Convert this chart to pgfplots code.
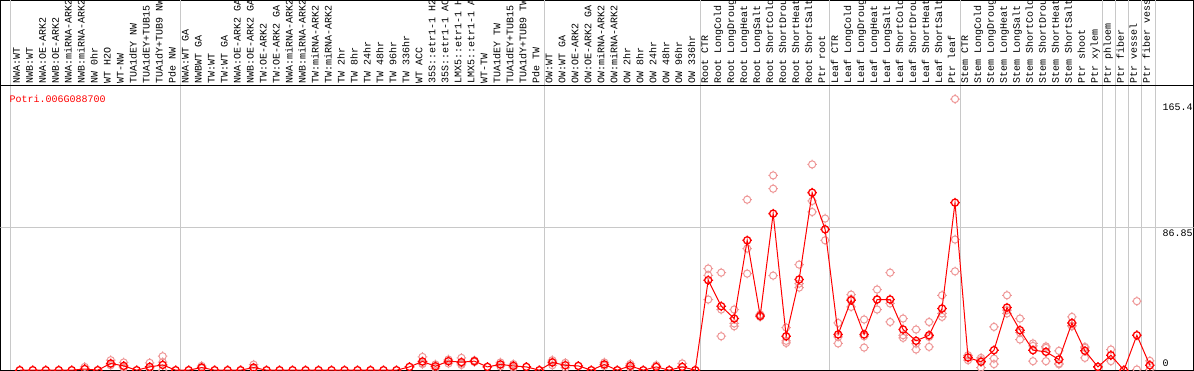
\documentclass[border=0pt]{standalone}
\usepackage{pgfplots}
\usepackage{pgfplotstable}
\pgfplotsset{compat=1.18}
\usepackage{fontspec}
\setmainfont{Liberation Mono}
\definecolor{rep}{RGB}{238,150,150}
\definecolor{gridc}{RGB}{200,200,200}
\pgfdeclareplotmark{tc}{%
 \pgfpathcircle{\pgfpointorigin}{\pgfplotmarksize}%
 \pgfpathmoveto{\pgfpoint{0pt}{\pgfplotmarksize-0.6pt}}\pgfpathlineto{\pgfpoint{0pt}{\pgfplotmarksize+1.2pt}}%
 \pgfpathmoveto{\pgfpoint{0pt}{-\pgfplotmarksize+0.6pt}}\pgfpathlineto{\pgfpoint{0pt}{-\pgfplotmarksize-1.2pt}}%
 \pgfpathmoveto{\pgfpoint{\pgfplotmarksize-0.6pt}{0pt}}\pgfpathlineto{\pgfpoint{\pgfplotmarksize+1.2pt}{0pt}}%
 \pgfpathmoveto{\pgfpoint{-\pgfplotmarksize+0.6pt}{0pt}}\pgfpathlineto{\pgfpoint{-\pgfplotmarksize-1.2pt}{0pt}}%
 \pgfusepathqstroke}
\pgfplotstableread{
x y
0 0
1 0
2 0
3 0
4 0
5 0.7
6 0
7 4.1
8 2.6
9 0
10 2.0
11 3.2
12 0
13 0
14 1.6
15 0
16 0
17 0
18 1.6
19 0
20 0
21 0
22 0
23 0
24 0
25 0
26 0
27 0
28 0
29 0
30 2.0
31 5.3
32 2.4
33 5.5
34 4.9
35 5.5
36 2.0
37 3.5
38 2.6
39 2.0
40 0
41 4.7
42 3.0
43 2.6
44 0
45 3.5
46 0
47 2.6
48 0
49 2.0
50 0
51 2.0
52 0
53 54.9
54 39.0
55 31.5
56 79.2
57 33.1
58 95.5
59 20.7
60 55.3
61 108.3
62 85.9
63 21.8
64 42.7
65 21.8
66 43.1
67 43.1
68 24.8
69 17.9
70 21.3
71 37.6
72 102.2
73 7.7
74 5.1
75 12.2
76 38.2
77 24.4
78 12.2
79 11.2
80 6.5
81 28.8
82 11.8
83 2.0
84 9.1
85 0
86 21.3
87 3.0
}\meantable
\pgfplotstableread{
x y
5 2.0
7 6.1
7 3.2
7 3.0
8 4.7
8 1.6
8 1.5
10 4.5
10 0.8
11 8.5
11 4.9
11 0
14 2.6
14 1.2
18 3.4
18 0.8
31 8.1
31 4.1
31 3.7
32 3.5
32 1.3
33 4.1
33 6.5
34 7.5
34 3.2
34 4.0
35 5.0
35 6.0
37 4.7
37 2.3
38 3.7
38 1.5
41 6.1
41 3.0
41 5.0
42 4.5
42 1.5
45 4.7
45 2.6
47 3.8
47 1.4
49 3.0
51 4.1
53 62.0
53 57.9
53 43.1
54 59.5
54 37.0
54 20.7
55 37.0
55 28.5
55 26.8
56 104.0
56 74.2
56 58.9
57 34.0
57 32.5
57 32.8
58 118.8
58 110.7
58 57.7
59 26.0
59 17.9
59 16.6
60 64.4
60 52.8
60 50.4
61 125.5
61 103.2
61 96.5
62 92.5
62 79.2
63 28.8
63 16.3
63 20.3
64 46.1
64 38.6
64 43.4
65 30.9
65 13.8
65 20.7
66 49.2
66 37.0
66 43.1
67 59.5
67 40.7
67 29.4
68 31.5
68 21.3
68 19.7
69 24.8
69 12.6
69 16.2
70 29.4
70 14.2
70 20.3
71 45.7
71 34.6
71 32.5
72 165.4
72 79.7
72 60.3
73 9.1
73 6.1
73 7.9
74 7.5
74 1.6
74 6.2
75 26.4
75 7.1
75 3.7
76 45.7
76 34.6
76 36.6
77 31.5
77 18.7
77 23.0
78 16.3
78 5.5
78 14.8
79 13.6
79 5.5
79 14.5
80 11.8
80 4.1
80 3.6
81 32.5
81 26.8
81 27.1
82 14.2
82 13.6
82 7.5
83 2.0
84 12.6
84 5.5
86 42.1
86 0.4
87 5.7
87 0.4
}\reptable
\begin{document}
\begin{tikzpicture}
\begin{axis}[
  name=main,
  width=1194pt, height=285pt, scale only axis,
  xmin=-1.485, xmax=90.36, ymin=0, ymax=173.7,
  clip marker paths=true,
  axis line style={line width=1pt},
  major tick length=0,
  xtick={0,...,87},
  xticklabels={{NWA:WT},{NWB:WT},{NWA:OE-ARK2},{NWB:OE-ARK2},{NWA:miRNA-ARK2},{NWB:miRNA-ARK2},{NW 0hr},{WT H2O},{WT-NW},{TUA1dEY NW},{TUA1dEY+TUB15},{TUA1dY+TUB9 NW},{Pde NW},
  {NWA:WT GA},{NWBWT GA},{TW:WT},{TW:WT GA},{NWA:OE-ARK2 GA},{NWB:OE-ARK2 GA},{TW:OE-ARK2},{TW:OE-ARK2 GA},{NWA:miRNA-ARK2},{NWB:miRNA-ARK2},{TW:miRNA-ARK2},{TW:miRNA-ARK2},{TW 2hr},{TW 8hr},{TW 24hr},{TW 48hr},{TW 96hr},{TW 336hr},{WT ACC},{35S::etr1-1 H2},{35S::etr1-1 AC},{LMX5::etr1-1 H},{LMX5::etr1-1 A},{WT-TW},{TUA1dEY TW},{TUA1dEY+TUB15},{TUA1dY+TUB9 TW},{Pde TW},
  {OW:WT},{OW:WT GA},{OW:OE-ARK2},{OW:OE-ARK2 GA},{OW:miRNA-ARK2},{OW:miRNA-ARK2},{OW 2hr},{OW 8hr},{OW 24hr},{OW 48hr},{OW 96hr},{OW 336hr},
  {Root CTR},{Root LongCold},{Root LongDroug},{Root LongHeat},{Root LongSalt},{Root ShortCold},{Root ShortDrou},{Root ShortHeat},{Root ShortSalt},{Ptr root},
  {Leaf CTR},{Leaf LongCold},{Leaf LongDroug},{Leaf LongHeat},{Leaf LongSalt},{Leaf ShortCold},{Leaf ShortDrou},{Leaf ShortHeat},{Leaf ShortSalt},{Ptr leaf},
  {Stem CTR},{Stem LongCold},{Stem LongDroug},{Stem LongHeat},{Stem LongSalt},{Stem ShortCold},{Stem ShortDrou},{Stem ShortHeat},{Stem ShortSalt},{Ptr shoot},{Ptr xylem},{Ptr phloem},{Ptr fiber},{Ptr vessel},{Ptr fiber vess}},
  xticklabel pos=upper,
  xticklabel style={rotate=90, anchor=base west, inner sep=1.5pt, font=\fontsize{10}{10}\selectfont},
  ytick={6.5,85.9,162.9},
  yticklabels={0,86.85,165.4},
  yticklabel pos=right,
  yticklabel style={anchor=north west, inner sep=0pt, xshift=-31pt, font=\fontsize{10}{10}\selectfont},
  extra x ticks={-0.7,12.36,40.36,52.4,62.36,72.4,83.36,84.36,85.36,86.36,87.4},
  extra x tick labels={},
  extra x tick style={grid=major, major grid style={gridc, line width=1pt}},
]
\draw[gridc, line width=1pt] (axis cs:-1.485,86.85) -- (axis cs:90.36,86.85);
\addplot[only marks, mark=tc, mark size=3.6pt, rep, mark options={line width=1pt}] table[x=x,y=y] {\reptable};
\addplot[red, line width=1pt, mark=tc, mark size=3.6pt, mark options={line width=1.3pt}] table[x=x,y=y] {\meantable};
\node[anchor=base west, inner sep=0pt, text=red, xshift=9pt, yshift=-16.7pt, font=\fontsize{10}{10}\selectfont] at (rel axis cs:0,1) {Potri.006G088700};
\coordinate (tl) at (rel axis cs:0,1);
\coordinate (bl) at (rel axis cs:0,0);
\end{axis}
\begin{axis}[
  at={(tl)}, anchor=south west,
  width=1194pt, height=85pt, scale only axis,
  xmin=-1.485, xmax=90.36, ymin=0, ymax=1,
  axis line style={line width=1pt},
  major tick length=0,
  xtick=\empty, ytick=\empty,
  extra x ticks={-0.7,12.36,40.36,52.4,62.36,72.4,83.36,84.36,85.36,86.36,87.4},
  extra x tick labels={},
  extra x tick style={grid=major, major grid style={gridc, line width=1pt}},
]
\coordinate (tr) at (rel axis cs:1,1);
\end{axis}
\pgfresetboundingbox
\useasboundingbox ([shift={(-0.5pt,-0.5pt)}]bl) rectangle ([shift={(0.5pt,0.5pt)}]tr);
\end{tikzpicture}
\end{document}
